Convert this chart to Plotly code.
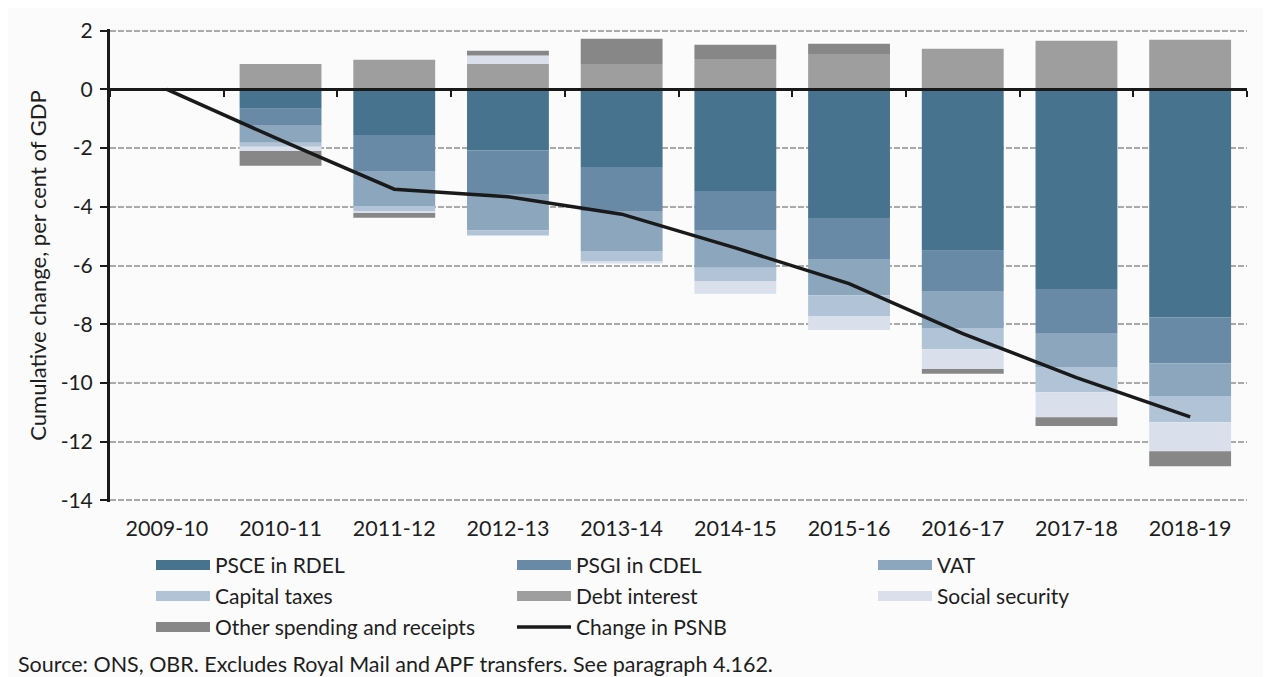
import plotly.graph_objects as go

years = ["2009-10", "2010-11", "2011-12", "2012-13", "2013-14",
         "2014-15", "2015-16", "2016-17", "2017-18", "2018-19"]

psce_rdel = [0, -0.66, -1.55, -2.08, -2.64, -3.46, -4.38, -5.50, -6.80, -7.76]
psgi_cdel = [0, -0.58, -1.23, -1.48, -1.50, -1.33, -1.40, -1.37, -1.50, -1.57]
vat = [0, -0.58, -1.19, -1.25, -1.37, -1.29, -1.23, -1.26, -1.16, -1.12]
capital_taxes = [0, -0.13, -0.17, -0.17, -0.37, -0.45, -0.71, -0.72, -0.86, -0.89]
debt_interest = [0, 0.87, 1.01, 0.87, 0.87, 1.01, 1.21, 1.39, 1.66, 1.69]
social_security = [0, -0.15, -0.07, 0.29, -0.05, -0.43, -0.48, -0.68, -0.85, -0.99]
other = [0, -0.50, -0.16, 0.16, 0.86, 0.51, 0.35, -0.16, -0.30, -0.51]
psnb_change = [0, -1.73, -3.40, -3.66, -4.25, -5.40, -6.62, -8.32, -9.82, -11.16]

y_ticks = [2, 0, -2, -4, -6, -8, -10, -12, -14]
y_tick_text = ["2", "0", "-2", "-4", "-6", "-8", "-10", "-12", "-14"]
y_range = [-14.06, 2.06]

FONT = "Lato"
TXT = "#1e1e1e"

series = [
    ("PSCE in RDEL", psce_rdel, "#48738f", "legend"),
    ("PSGI in CDEL", psgi_cdel, "#688aa6", "legend"),
    ("VAT", vat, "#8ba6bd", "legend"),
    ("Capital taxes", capital_taxes, "#b1c3d6", "legend2"),
    ("Debt interest", debt_interest, "#9e9e9e", "legend2"),
    ("Social security", social_security, "#d9e0eb", "legend2"),
    ("Other spending and receipts", other, "#878787", "legend3"),
]

fig = go.Figure()
for name, vals, col, lg in series:
    fig.add_trace(go.Bar(x=years, y=vals, name=name, marker=dict(color=col, line=dict(width=0)),
                         xaxis="x", yaxis="y", legendgroup=name, showlegend=False))

# wide rectangular legend swatches (legend-only entries tied to the bar traces)
for name, vals, col, lg in series:
    fig.add_trace(go.Scatter(x=[None], y=[None], name=name, mode="lines",
                             line=dict(color=col, width=13), legendgroup=name, legend=lg,
                             hoverinfo="skip"))

fig.add_trace(go.Scatter(x=years, y=psnb_change, name="Change in PSNB", mode="lines",
                         line=dict(color="#1a1a1a", width=3.5), xaxis="x2", yaxis="y",
                         legend="legend3"))

# plot area in window pixels: x 110..1247, y(2)=31, y(-14)=500 ; page offset 8px
PLOT_H = 469 * (y_range[1] - y_range[0]) / 16
TOP = 31 - (y_range[1] - 2) * 469 / 16
BOT = TOP + PLOT_H


def py(pix):
    return (BOT - pix) / PLOT_H


def legend_row(yc):
    return dict(orientation="h", x=(151 - 110) / 1137, xanchor="left", y=py(yc), yanchor="middle",
                entrywidth=292, entrywidthmode="pixels", itemwidth=54,
                font=dict(size=21, color=TXT, family=FONT), bgcolor="rgba(0,0,0,0)",
                traceorder="normal")


fig.update_layout(
    width=1271, height=677,
    barmode="relative", bargap=0.28,
    paper_bgcolor="#fbfbfb", plot_bgcolor="#fbfbfb",
    margin=dict(l=102, r=32, t=TOP - 8, b=685 - BOT, autoexpand=False),
    font=dict(family=FONT, size=21, color=TXT),
    xaxis=dict(type="category", categoryorder="array", categoryarray=years,
               range=[-0.5, 9.5], showline=False, ticks="outside", ticklen=7,
               tickcolor="rgba(0,0,0,0)", showgrid=False, automargin=False,
               tickfont=dict(size=21.5, color=TXT)),
    xaxis2=dict(type="category", categoryorder="array", categoryarray=years,
                overlaying="x", anchor="free", position=(0 - y_range[0]) / (y_range[1] - y_range[0]),
                range=[-0.5, 9.5], showticklabels=False, showgrid=False, automargin=False,
                showline=True, linecolor="#1a1a1a", linewidth=3,
                tickson="boundaries", ticks="outside", ticklen=6, tickwidth=2,
                tickcolor="#1a1a1a"),
    yaxis=dict(range=y_range, tickvals=y_ticks, ticktext=y_tick_text, showline=True,
               linecolor="#1a1a1a", automargin=False,
               linewidth=3, ticks="outside", ticklen=7, tickwidth=2, tickcolor="#1a1a1a",
               ticklabelstandoff=3,
               showgrid=True, gridcolor="#aaaaaa", gridwidth=1.5, griddash="6px,2px",
               zeroline=False, tickfont=dict(size=21, color=TXT),
               title=dict(text="Cumulative change, per cent of GDP", font=dict(size=22, color=TXT),
                          standoff=8)),
    legend=legend_row(565),
    legend2=legend_row(596),
    legend3=legend_row(627),
    annotations=[dict(text="Source: ONS, OBR. Excludes Royal Mail and APF transfers. See paragraph 4.162.",
                      xref="paper", yref="paper", x=(16 - 110) / 1137, y=py(664),
                      xanchor="left", yanchor="middle", showarrow=False,
                      font=dict(size=21.5, color=TXT))],
)

fig.write_html("out.html")
